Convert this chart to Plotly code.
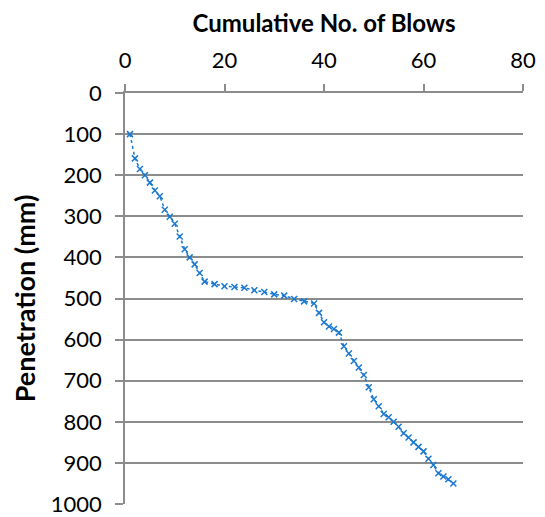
import plotly.graph_objects as go

blows = [1, 2, 3, 4, 5, 6, 7, 8, 9, 10, 11, 12, 13, 14, 15, 16, 18, 20, 22, 24,
         26, 28, 30, 32, 34, 36, 38, 39, 40, 41, 42, 43, 44, 45, 46, 47, 48, 49,
         50, 51, 52, 53, 54, 55, 56, 57, 58, 59, 60, 61, 62, 63, 64, 65, 66]
penetration = [100, 159, 185, 200, 218, 237, 251, 284, 301, 318, 349, 380, 400, 417,
               438, 459, 465, 470, 472, 474, 480, 484, 490, 493, 501, 507, 512, 535,
               558, 568, 574, 583, 616, 634, 652, 668, 686, 716, 745, 762, 781, 789,
               800, 812, 828, 838, 850, 861, 872, 890, 905, 925, 933, 940, 950]

x_ticks = [0, 20, 40, 60, 80]
y_ticks = [0, 100, 200, 300, 400, 500, 600, 700, 800, 900, 1000]

blue = "#1a78d0"
grey = "#8c8c8c"
font = "Lato, Liberation Sans, sans-serif"

fig = go.Figure()
fig.add_trace(go.Scatter(
    x=blows, y=penetration, mode="lines+markers",
    line=dict(color=blue, width=1.5, dash="dot"),
    marker=dict(symbol="x-thin", size=6, line=dict(color=blue, width=1.5)),
    showlegend=False,
))

fig.update_layout(
    width=545, height=517,
    margin=dict(l=117, r=30, t=85, b=21),
    paper_bgcolor="white", plot_bgcolor="white",
    font=dict(family=font, size=22, color="black"),
    xaxis=dict(
        side="top", range=[0, 80], tickvals=x_ticks, automargin=False,
        showgrid=False, zeroline=False,
        showline=True, linecolor=grey, linewidth=1.5,
        ticks="outside", ticklen=7, tickcolor=grey, tickwidth=1.5,
        ticklabelstandoff=7,
        title=dict(text="<b>Cumulative No. of Blows</b>", font=dict(size=24), standoff=14),
    ),
    yaxis=dict(
        range=[1000, 0], tickvals=y_ticks, automargin=False,
        showgrid=True, gridcolor=grey, gridwidth=1.5, zeroline=False,
        showline=True, linecolor=grey, linewidth=1.5,
        ticks="outside", ticklen=8, tickcolor=grey, tickwidth=1.5,
        ticklabelstandoff=9,
        title=dict(text="<b>Penetration (mm)</b>", font=dict(size=27), standoff=9),
    ),
)

fig.write_html("out.html")
